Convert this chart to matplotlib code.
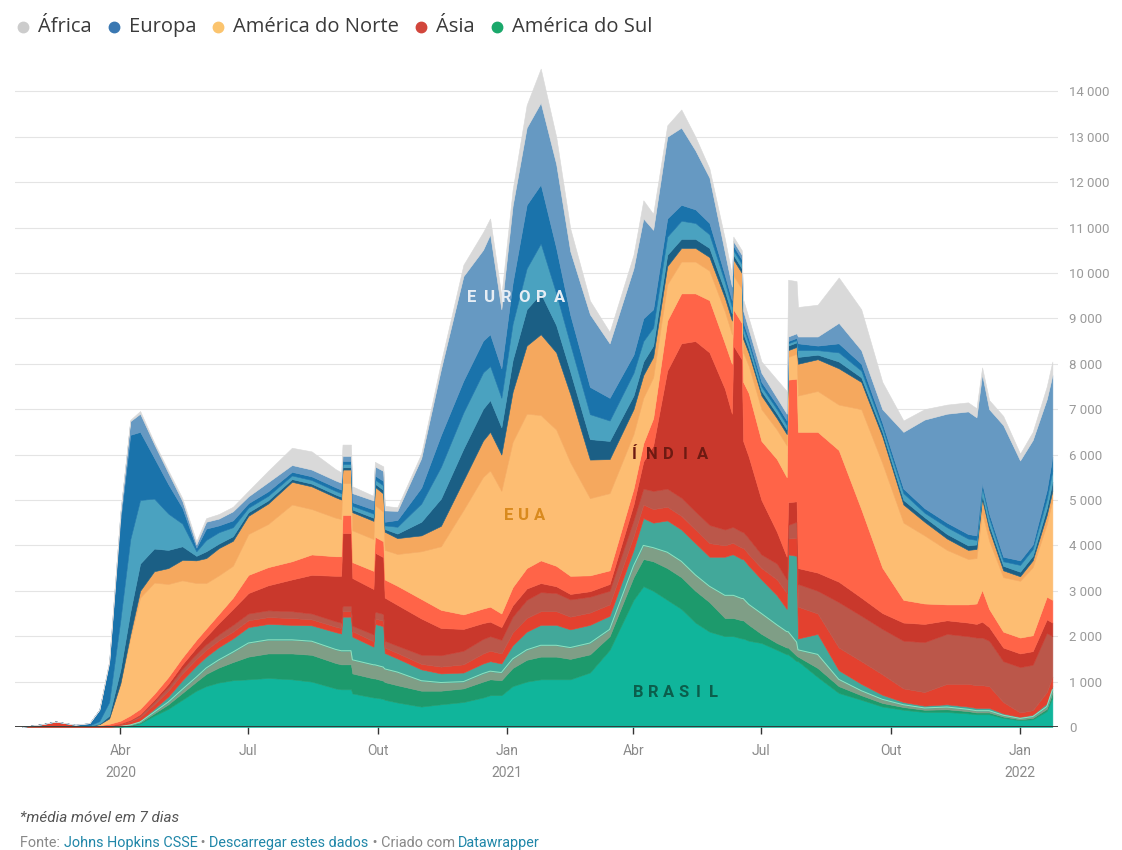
import numpy as np
import pandas as pd
import matplotlib
matplotlib.use("Agg")
import matplotlib.pyplot as plt
import matplotlib.dates as mdates
from matplotlib.lines import Line2D

plt.rcParams['font.family'] = ['Roboto', 'DejaVu Sans']

# -----------------------------
# dados: mortes diárias (média móvel 7 dias)
# -----------------------------
dates = [
    "2020-01-22", "2020-02-05", "2020-02-15", "2020-02-29", "2020-03-10", "2020-03-17", "2020-03-24",
    "2020-04-01", "2020-04-08", "2020-04-15", "2020-04-25", "2020-05-05", "2020-05-15", "2020-05-25",
    "2020-06-01", "2020-06-10", "2020-06-20", "2020-07-01", "2020-07-15", "2020-08-01", "2020-08-15",
    "2020-09-01", "2020-09-05", "2020-09-06", "2020-09-12", "2020-09-13", "2020-09-28", "2020-09-29",
    "2020-10-05", "2020-10-06", "2020-10-15", "2020-11-01", "2020-11-15", "2020-12-01", "2020-12-15",
    "2020-12-20", "2020-12-28", "2021-01-05", "2021-01-15", "2021-01-25", "2021-02-05", "2021-02-15",
    "2021-03-01", "2021-03-15", "2021-04-01", "2021-04-08", "2021-04-15", "2021-04-25", "2021-05-05",
    "2021-05-15", "2021-05-25", "2021-06-05", "2021-06-10", "2021-06-11", "2021-06-17", "2021-06-18",
    "2021-06-22", "2021-07-01", "2021-07-12", "2021-07-19", "2021-07-20", "2021-07-26", "2021-07-27",
    "2021-08-10", "2021-08-25", "2021-09-10", "2021-09-25", "2021-10-10", "2021-10-25", "2021-11-10",
    "2021-11-25", "2021-12-01", "2021-12-05", "2021-12-10", "2021-12-20", "2022-01-01", "2022-01-10",
    "2022-01-20", "2022-01-24",
]

# América do Sul
brasil = [0, 0, 0, 0, 0, 0, 0, 10, 30, 80, 250, 400, 600, 800, 900, 980, 1030, 1050, 1080, 1050, 1000,
          850, 830, 830, 830, 740, 650, 650, 620, 600, 540, 450, 500, 550, 650, 700, 700, 900, 1000, 1050,
          1050, 1050, 1200, 1700, 2800, 3100, 3000, 2800, 2600, 2300, 2100, 2000, 2000, 2000, 1950, 1950,
          1900, 1850, 1700, 1600, 1600, 1450, 1450, 1100, 750, 600, 450, 380, 330, 330, 300, 280, 280, 280,
          200, 150, 170, 350, 650]
sul_2 = [0, 0, 0, 0, 0, 0, 0, 3, 10, 20, 50, 100, 150, 200, 270, 330, 400, 500, 540, 570, 590,
         560, 550, 550, 550, 440, 420, 420, 400, 390, 380, 350, 300, 300, 350, 350, 330, 400, 480, 500,
         500, 450, 400, 300, 500, 600, 650, 700, 700, 700, 650, 400, 400, 400, 400, 400,
         350, 200, 150, 150, 150, 120, 100, 200, 150, 100, 80, 60, 50, 60, 50, 40, 40, 40,
         30, 20, 30, 50, 100]
sul_3 = [0, 0, 0, 0, 0, 0, 0, 2, 5, 10, 30, 50, 80, 100, 130, 170, 220, 300, 300, 300, 300,
         300, 300, 300, 300, 300, 300, 300, 300, 290, 290, 220, 180, 150, 180, 180, 170, 200, 220, 250,
         250, 250, 250, 150, 250, 300, 300, 350, 350, 350, 350, 500, 500, 500, 480, 480,
         450, 450, 400, 350, 350, 300, 150, 300, 150, 100, 80, 50, 40, 50, 40, 40, 40, 40,
         30, 20, 30, 50, 70]
sul_4 = [0, 0, 0, 0, 0, 0, 0, 10, 20, 30, 70, 120, 200, 250, 250, 280, 300, 350, 350, 330, 350,
         380, 380, 750, 750, 510, 400, 900, 900, 350, 300, 250, 200, 200, 220, 220, 200, 300, 400, 450,
         450, 400, 400, 300, 350, 600, 550, 700, 700, 700, 650, 850, 900, 900, 870, 870,
         850, 750, 650, 500, 1700, 1900, 250, 450, 200, 150, 100, 60, 50, 60, 60, 60, 60, 60,
         40, 30, 40, 70, 80]

# Ásia
asia_1 = [2, 60, 120, 45, 25, 25, 30, 40, 60, 80, 100, 130, 150, 150, 150, 150, 150, 150, 150, 150, 130,
          120, 120, 120, 120, 120, 120, 120, 120, 120, 120, 120, 150, 180, 220, 230, 220, 280, 300, 300,
          300, 280, 270, 250, 300, 300, 300, 300, 300, 300, 300, 250, 250, 250, 250, 250,
          250, 250, 350, 350, 350, 400, 700, 450, 500, 500, 450, 300, 300, 450, 500, 500, 500, 480,
          250, 100, 100, 250, 200]
asia_2 = [0, 0, 0, 0, 0, 0, 0, 10, 20, 40, 60, 80, 100, 110, 120, 130, 150, 150, 150, 150, 130,
          120, 120, 120, 120, 120, 150, 150, 150, 150, 160, 200, 250, 300, 320, 320, 300, 350, 400, 420,
          400, 380, 350, 300, 350, 350, 400, 400, 400, 400, 400, 350, 350, 350, 350, 350,
          350, 300, 350, 300, 300, 350, 500, 500, 1000, 1000, 1000, 1050, 1100, 1100, 1050, 1050, 1050, 1000,
          900, 1000, 1000, 1300, 900]
india = [0, 0, 0, 0, 0, 0, 0, 3, 10, 20, 40, 70, 100, 140, 170, 250, 350, 450, 550, 700, 850,
         1000, 1030, 1600, 1600, 1050, 1000, 1300, 1250, 950, 900, 800, 600, 480, 350, 320, 280, 250, 250, 200,
         150, 120, 120, 150, 350, 600, 1000, 2600, 3400, 3750, 3800, 3100, 2500, 4000, 3800, 2000,
         1800, 1200, 700, 500, 500, 450, 350, 400, 450, 400, 350, 400, 400, 300, 300, 300, 350, 300,
         300, 300, 300, 300, 300]
asia_3 = [0, 0, 0, 0, 0, 15, 40, 60, 100, 120, 130, 150, 150, 170, 180, 200, 250, 400, 400, 400, 450,
          430, 430, 400, 400, 350, 400, 350, 350, 400, 420, 430, 400, 320, 320, 330, 300, 400, 450, 500,
          450, 400, 350, 300, 350, 400, 600, 1100, 1100, 1050, 1150, 1000, 1100, 800, 800, 1300,
          1400, 1300, 1600, 1750, 2700, 2700, 3000, 3100, 2900, 1950, 1000, 500, 450, 350, 400, 450, 700, 400,
          350, 350, 350, 500, 500]

# América do Norte
eua = [0, 0, 0, 0, 0, 20, 120, 800, 1700, 2450, 2450, 2050, 1700, 1250, 1000, 850, 700, 900, 950, 1250, 1000,
       850, 820, 700, 700, 700, 700, 700, 650, 650, 700, 1050, 1400, 2300, 2900, 3000, 2700, 3200, 3400, 3200,
       3000, 2500, 1700, 1700, 1200, 1000, 900, 800, 700, 700, 650, 700, 650, 750, 750, 650,
       600, 700, 650, 700, 500, 550, 800, 900, 1000, 2200, 2300, 1700, 1500, 1200, 1000, 1000, 1700, 1500,
       1200, 1250, 1500, 1600, 2200]
norte_2 = [0, 0, 0, 0, 0, 0, 0, 30, 80, 150, 250, 350, 450, 500, 550, 600, 550, 400, 450, 500, 500,
           450, 430, 300, 300, 400, 400, 400, 400, 400, 350, 350, 450, 650, 800, 850, 800, 1100, 1500, 1780,
           1700, 1500, 850, 750, 550, 500, 450, 400, 300, 300, 300, 300, 300, 350, 350, 300,
           280, 300, 250, 250, 150, 150, 700, 700, 800, 600, 590, 400, 300, 250, 200, 200, 300, 250,
           150, 100, 150, 200, 200]

# Europa
europa_1 = [0, 0, 0, 0, 0, 10, 60, 300, 500, 600, 500, 400, 300, 100, 150, 100, 100, 80, 70, 60, 60,
            60, 60, 50, 50, 60, 70, 70, 80, 60, 100, 300, 600, 700, 700, 700, 600, 700, 800, 900,
            600, 500, 450, 400, 300, 300, 250, 250, 200, 200, 200, 150, 150, 100, 100, 120,
            100, 100, 100, 100, 100, 100, 150, 100, 150, 100, 100, 100, 100, 100, 100, 100, 100, 100,
            100, 100, 100, 150, 200]
europa_2 = [0, 0, 0, 0, 10, 60, 300, 1100, 1600, 1400, 1100, 800, 500, 100, 250, 250, 200, 100, 100, 80, 80,
            80, 80, 70, 70, 80, 90, 90, 100, 80, 150, 400, 700, 800, 800, 750, 650, 800, 900, 1100,
            700, 600, 550, 450, 500, 450, 400, 400, 400, 350, 300, 200, 150, 100, 100, 130,
            120, 100, 100, 100, 50, 50, 150, 100, 200, 150, 100, 150, 100, 150, 150, 100, 150, 150,
            100, 150, 150, 200, 250]
europa_3 = [0, 0, 0, 5, 50, 250, 850, 2200, 2300, 1500, 900, 650, 350, 80, 250, 150, 150, 100, 100, 80, 80,
            80, 80, 70, 70, 80, 90, 90, 100, 80, 150, 350, 700, 700, 700, 700, 650, 900, 1400, 1300,
            1000, 650, 600, 500, 400, 500, 400, 400, 350, 300, 250, 150, 150, 100, 100, 120,
            100, 100, 100, 100, 50, 50, 150, 100, 200, 150, 100, 100, 100, 100, 100, 100, 100, 100,
            100, 100, 100, 200, 300]
europa_4 = [0, 0, 0, 0, 0, 0, 40, 150, 300, 400, 300, 250, 150, 70, 150, 150, 200, 150, 200, 150, 150,
            150, 150, 110, 110, 200, 200, 200, 220, 250, 200, 650, 1450, 2300, 2000, 2200, 1300, 1700, 1700, 1800,
            1850, 1400, 1600, 1200, 1900, 2200, 1750, 1800, 1700, 1300, 1000, 500, 300, 100, 100, 250,
            200, 200, 150, 150, 100, 100, 150, 200, 450, 300, 300, 1250, 1950, 2400, 2700, 2600, 2400, 2300,
            2900, 2200, 2300, 2000, 1800]

# África
africa = [0, 0, 0, 0, 0, 0, 0, 15, 30, 60, 40, 50, 60, 70, 80, 100, 100, 120, 250, 380, 400,
          250, 230, 250, 250, 150, 100, 100, 100, 100, 80, 100, 150, 250, 390, 350, 300, 350, 500, 750,
          600, 500, 300, 250, 300, 400, 350, 250, 400, 300, 200, 300, 250, 100, 100, 250,
          250, 250, 400, 500, 1250, 1150, 650, 700, 1000, 900, 600, 250, 230, 200, 200, 200, 150, 200,
          200, 150, 180, 280, 300]

layers = [brasil, sul_2, sul_3, sul_4,
          asia_1, asia_2, india, asia_3,
          eua, norte_2,
          europa_1, europa_2, europa_3, europa_4,
          africa]
colors = ['#10b59b', '#1d9a6c', '#7f9e86', '#42a89a',
          '#e3412f', '#bb574a', '#c9382c', '#ff6448',
          '#fdbd72', '#f5a85e',
          '#1b5f85', '#4aa2c0', '#1a73ab', '#6699c2',
          '#d9d9d9']

leg_labels = ["África", "Europa", "América do Norte", "Ásia", "América do Sul"]
leg_colors = ['#cccccc', '#3a78b2', '#fbc46e', '#d2463c', '#1aa86b']

x = pd.to_datetime(dates)

# -----------------------------
# figura
# -----------------------------
fig = plt.figure(figsize=(11.22, 8.5), dpi=100)
ax = fig.add_axes([15 / 1122, 1 - 727 / 850, (1058 - 15) / 1122, (727 - 55) / 850])

polys = ax.stackplot(x, *layers, colors=colors, linewidth=0.4)
for p, c in zip(polys, colors):
    p.set_edgecolor(c)

# linha clara entre camadas da América do Sul
ax.plot(x, np.sum(layers[:3], axis=0), color='#8fe3c0', lw=0.7)

ax.set_xlim(pd.Timestamp("2020-01-17"), pd.Timestamp("2022-01-28"))
ax.set_ylim(0, 14800)

# eixo y à direita
ax.yaxis.tick_right()
yt = list(range(0, 14001, 1000))
ax.set_yticks(yt)
ax.set_yticklabels([f"{v:,}".replace(",", " ") for v in yt])
ax.tick_params(axis='y', length=0, pad=8, labelsize=9.5, labelcolor='#9a9a9a')
ax.grid(axis='y', color='#e4e4e4', lw=0.8)
ax.set_axisbelow(True)
for s in ax.spines.values():
    s.set_visible(False)
ax.axhline(0, color='#333333', lw=1.3, zorder=5)

# eixo x
xt = pd.to_datetime(["2020-04-01", "2020-07-01", "2020-10-01", "2021-01-01",
                     "2021-04-01", "2021-07-01", "2021-10-01", "2022-01-01"])
xl = ["Abr\n2020", "Jul", "Out", "Jan\n2021", "Abr", "Jul", "Out", "Jan\n2022"]
ax.set_xticks(xt)
ax.set_xticklabels(xl, linespacing=1.75)
ax.tick_params(axis='x', length=5, width=1, color='#333333', labelsize=10,
               labelcolor='#8a8a8a', pad=7)


# rótulos com espaçamento entre letras
def spaced(xd, yd, text, pitch, **kw):
    n = len(text)
    xv = mdates.date2num(pd.Timestamp(xd))
    for i, ch in enumerate(text):
        off = (i - (n - 1) / 2) * pitch
        ax.annotate(ch, (xv, yd), xytext=(off, 0), textcoords='offset pixels',
                    ha='center', va='center', fontweight='bold', fontsize=12, **kw)


spaced("2021-01-07", 9450, "EUROPA", 17.5, color='#e6edf4')
spaced("2021-01-13", 4650, "EUA", 15.5, color='#d98a1e')
spaced("2021-04-26", 6000, "ÍNDIA", 17.0, color='#6e1a12')
spaced("2021-05-01", 750, "BRASIL", 15.0, color='#0b5e4c')

# legenda: círculo + texto, em sequência
renderer = fig.canvas.get_renderer()
W = fig.bbox.width
ly = 1 - 27 / 850
px = 23
for lab, c in zip(leg_labels, leg_colors):
    fig.add_artist(Line2D([px / W], [ly], transform=fig.transFigure, marker='o', ls='',
                          markersize=7.5, markerfacecolor=c, markeredgecolor=c))
    t = fig.text((px + 15) / W, ly, lab, fontsize=14.5, family='Open Sans', color='#3a3a3a',
                 va='center', ha='left')
    px = t.get_window_extent(renderer).x1 + 22

# rodapé
fig.text(20 / 1122, 1 - 818 / 850, "*média móvel em 7 dias", fontsize=11, style='italic',
         color='#555555', va='center')

parts = [("Fonte: ", '#888888'), ("Johns Hopkins CSSE", '#1f86a8'), (" • ", '#888888'),
         ("Descarregar estes dados", '#1f86a8'), (" • Criado com ", '#888888'),
         ("Datawrapper", '#1f86a8')]
xpos = 20 / 1122
for s, c in parts:
    t = fig.text(xpos, 1 - 843 / 850, s, fontsize=10.4, color=c, va='center')
    bb = t.get_window_extent(renderer)
    xpos = bb.x1 / W

fig.savefig("out.png", dpi=100)
